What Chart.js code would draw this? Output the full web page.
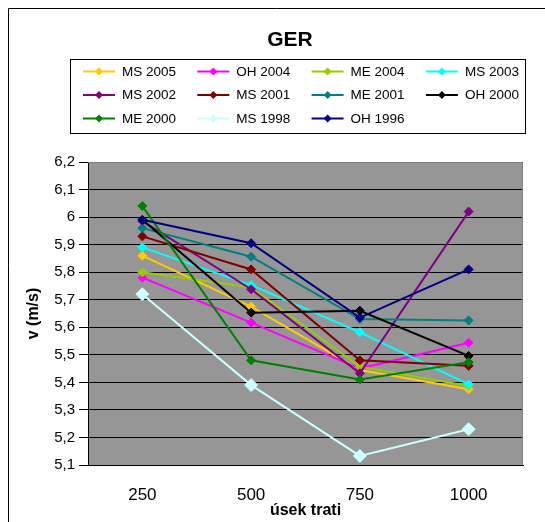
<!DOCTYPE html>
<html>
<head>
<meta charset="utf-8">
<script src="https://cdn.jsdelivr.net/npm/chart.js@4"></script>
<style>
  html, body { margin: 0; padding: 0; background: #fff; }
  #wrap { width: 545px; height: 522px; position: relative; }
</style>
</head>
<body>
<div id="wrap"><canvas id="grafico"></canvas></div>
<script>
// ===== GER — rychlost v úsecích trati =====

const USEKY = ['250', '500', '750', '1000'];

const NAZVY = ['MS 2005', 'OH 2004', 'ME 2004', 'MS 2003', 'MS 2002', 'MS 2001',
  'ME 2001', 'OH 2000', 'ME 2000', 'MS 1998', 'OH 1996'];

const BARVY = ['#FFCC00', '#FF00FF', '#99CC00', '#00FFFF', '#800080', '#800000',
  '#008080', '#000000', '#008000', '#CCFFFF', '#000080'];

const MS2005 = [5.86, 5.675, 5.445, 5.375];
const OH2004 = [5.78, 5.617, 5.45, 5.544];
const ME2004 = [5.80, 5.745, 5.457, 5.387];
const MS2003 = [5.89, 5.753, 5.582, 5.393];
const MS2002 = [5.985, 5.738, 5.433, 6.02];
const MS2001 = [5.93, 5.81, 5.48, 5.46];
const ME2001 = [5.96, 5.856, 5.63, 5.625];
const OH2000 = [5.99, 5.653, 5.66, 5.496];
const ME2000 = [6.04, 5.48, 5.41, 5.473];
const MS1998 = [5.72, 5.39, 5.133, 5.23];
const OH1996 = [5.99, 5.905, 5.635, 5.81];

const SERIE = [MS2005, OH2004, ME2004, MS2003, MS2002, MS2001, ME2001, OH2000, ME2000, MS1998, OH1996];

const Y_MIN = 5.1;
const Y_MAX = 6.2;
const Y_KROK = 0.1;

const FONT = '"Liberation Sans", Arial, sans-serif';

const fmt = v => String(Math.round(v * 10) / 10).replace('.', ',');

// pozadí, rámeček, titulek a legenda
const kresba = {
  id: 'kresba',
  beforeDraw(chart) {
    const { ctx, chartArea: a } = chart;
    ctx.save();
    ctx.fillStyle = '#fff';
    ctx.fillRect(0, 0, chart.width, chart.height);
    ctx.strokeStyle = '#000';
    ctx.lineWidth = 1;
    ctx.beginPath();
    ctx.moveTo(8.5, chart.height);
    ctx.lineTo(8.5, 8.5);
    ctx.lineTo(chart.width, 8.5);
    ctx.stroke();
    ctx.fillStyle = '#969696';
    ctx.fillRect(a.left, a.top, a.right - a.left, a.bottom - a.top);
    ctx.restore();
  },
  beforeDatasetsDraw(chart) {
    const { ctx, chartArea: a } = chart;
    ctx.save();
    ctx.strokeStyle = '#808080';
    ctx.lineWidth = 1;
    ctx.beginPath();
    ctx.moveTo(a.left, a.top + 0.5);
    ctx.lineTo(a.right - 0.5, a.top + 0.5);
    ctx.lineTo(a.right - 0.5, a.bottom);
    ctx.stroke();
    ctx.restore();
  },
  afterDraw(chart) {
    const { ctx } = chart;
    ctx.save();
    ctx.fillStyle = '#000';
    ctx.font = 'bold 21px ' + FONT;
    ctx.textAlign = 'center';
    ctx.textBaseline = 'middle';
    ctx.fillText('GER', 290, 40);

    // legenda
    ctx.fillStyle = '#fff';
    ctx.fillRect(70.5, 59.5, 455, 74);
    ctx.strokeStyle = '#000';
    ctx.strokeRect(70.5, 59.5, 455, 74);
    ctx.font = '13.5px ' + FONT;
    ctx.textAlign = 'left';
    chart.data.datasets.forEach((ds, i) => {
      const x = 83 + (i % 4) * 114.3;
      const y = 71.5 + Math.floor(i / 4) * 23.5;
      ctx.strokeStyle = ds.borderColor;
      ctx.lineWidth = 2;
      ctx.beginPath();
      ctx.moveTo(x, y);
      ctx.lineTo(x + 32, y);
      ctx.stroke();
      const r = 4;
      ctx.fillStyle = ds.borderColor;
      ctx.beginPath();
      ctx.moveTo(x + 16, y - r);
      ctx.lineTo(x + 16 + r, y);
      ctx.lineTo(x + 16, y + r);
      ctx.lineTo(x + 16 - r, y);
      ctx.closePath();
      ctx.fill();
      ctx.fillStyle = '#000';
      ctx.fillText(ds.label, x + 39, y + 0.5);
    });
    ctx.restore();
  }
};

new Chart(document.getElementById('grafico'), {
  type: 'line',
  data: {
    labels: USEKY,
    datasets: SERIE.map((data, i) => ({
      label: NAZVY[i],
      data,
      borderColor: BARVY[i],
      backgroundColor: BARVY[i],
      pointBackgroundColor: BARVY[i],
      pointBorderColor: BARVY[i],
      borderWidth: 2,
      pointStyle: 'rectRot',
      pointRadius: NAZVY[i] === 'MS 1998' ? 6.5 : 4.5,
      pointBorderWidth: 1,
      tension: 0,
      order: -i,
    })),
  },
  options: {
    responsive: true,
    maintainAspectRatio: false,
    animation: false,
    layout: { padding: { top: 162, right: 22, left: 0, bottom: 0 } },
    plugins: { legend: { display: false }, tooltip: { enabled: false } },
    scales: {
      x: {
        offset: true,
        grid: { display: false, drawTicks: false },
        border: { display: true, color: '#000', width: 1 },
        ticks: { color: '#000', padding: 20, font: { family: FONT, size: 17 } },
        title: {
          display: true, text: 'úsek trati', color: '#000',
          font: { family: FONT, size: 16, weight: 'bold' },
          padding: { top: 0, bottom: 1.5 },
        },
        afterFit(s) { s.height = 57; },
      },
      y: {
        min: Y_MIN,
        max: Y_MAX,
        grid: { color: '#000', lineWidth: 1, tickLength: 9, tickColor: '#000' },
        border: { color: '#000', width: 1 },
        ticks: {
          stepSize: Y_KROK, color: '#000', padding: 4,
          font: { family: FONT, size: 15 },
          callback: v => fmt(v),
        },
        title: {
          display: true, text: 'v (m/s)', color: '#000',
          font: { family: FONT, size: 16, weight: 'bold' },
          padding: { top: 24, bottom: 0 },
        },
        afterFit(s) { s.width = 88; },
      },
    },
  },
  plugins: [kresba],
});
</script>
</body>
</html>
